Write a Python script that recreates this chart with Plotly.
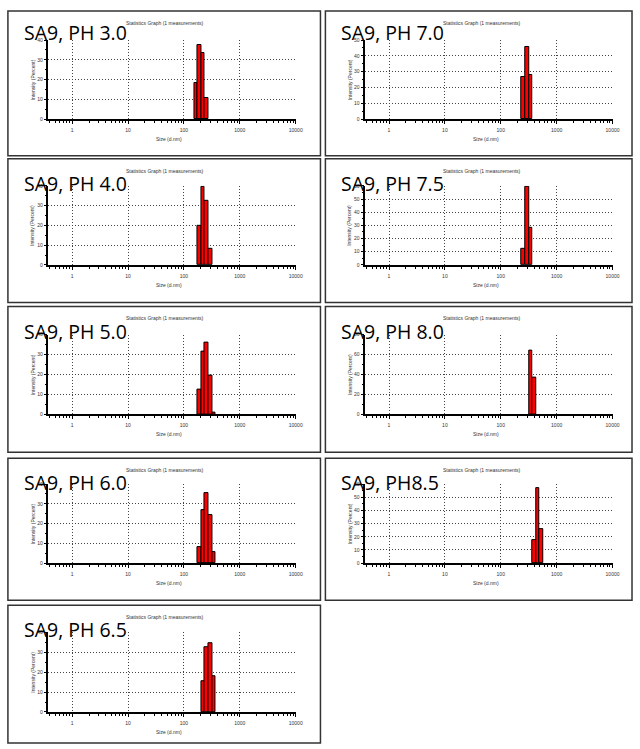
import math
import plotly.graph_objects as go

W, H = 640, 749

# ---- data (Malvern size classes, d.nm) and intensities (%) ----
labels = ["SA9, PH 3.0", "SA9, PH 4.0", "SA9, PH 5.0", "SA9, PH 6.0", "SA9, PH 6.5",
          "SA9, PH 7.0", "SA9, PH 7.5", "SA9, PH 8.0", "SA9, PH8.5"]

sizes_ph30 = [164.2, 190.1, 220.2, 255.0]
int_ph30 = [18.3, 37.6, 33.3, 10.8]
sizes_ph40 = [190.1, 220.2, 255.0, 295.3]
int_ph40 = [19.8, 39.4, 32.6, 8.2]
sizes_ph50 = [190.1, 220.2, 255.0, 295.3, 342.0]
int_ph50 = [12.2, 31.6, 35.9, 19.6, 0.7]
sizes_ph60 = [190.1, 220.2, 255.0, 295.3, 342.0]
int_ph60 = [8.2, 26.8, 35.3, 24.3, 5.4]
sizes_ph65 = [220.2, 255.0, 295.3, 342.0]
int_ph65 = [15.2, 32.3, 34.4, 18.1]
sizes_ph70 = [255.0, 295.3, 342.0]
int_ph70 = [26.6, 45.5, 27.9]
sizes_ph75 = [255.0, 295.3, 342.0]
int_ph75 = [12.5, 59.2, 28.3]
sizes_ph80 = [342.0, 396.1]
int_ph80 = [63.5, 36.5]
sizes_ph85 = [396.1, 458.7, 531.2]
int_ph85 = [17.4, 56.7, 25.9]

y_max = [40, 40, 40, 40, 40, 50, 60, 80, 60]
y_dtick = [10, 10, 10, 10, 10, 10, 10, 20, 10]
x_tickvals = [1, 10, 100, 1000, 10000]
x_ticktext = ["1", "10", "100", "1000", "10000"]

all_sizes = [sizes_ph30, sizes_ph40, sizes_ph50, sizes_ph60, sizes_ph65,
             sizes_ph70, sizes_ph75, sizes_ph80, sizes_ph85]
all_int = [int_ph30, int_ph40, int_ph50, int_ph60, int_ph65,
           int_ph70, int_ph75, int_ph80, int_ph85]

# ---- layout geometry (pixels) ----
RATIO = (10000 / 0.4) ** (1 / 69)      # Malvern size-class ratio
col_plot_x = [(49, 299), (369.3, 619.3)]
col_box_x = [(8, 324), (329, 639)]
row_plot_y = [(37.3, 117.2), (184.3, 264), (334.3, 414.7), (485, 564.7), (634.3, 714.7)]
row_box_y = [(8, 154), (157, 302), (306, 453), (459, 602), (607, 746)]
label_mid_y = [29.5, 182, 331.5, 483, 631.5]
positions = [(0, 0), (0, 1), (0, 2), (0, 3), (0, 4), (1, 0), (1, 1), (1, 2), (1, 3)]

def fx(v):
    return v / W

def fy(v):
    return 1 - v / H

minor_x = []
for d in [0.1, 1, 10, 100, 1000]:
    for k in range(2, 10):
        v = d * k
        if 0.376 < v < 10000:
            minor_x.append(v)

FONT = "Liberation Sans, Arial, sans-serif"
fig = go.Figure()
layout = dict(width=W, height=H, margin=dict(l=0, r=0, t=0, b=0),
              paper_bgcolor="white", plot_bgcolor="white", showlegend=False,
              bargap=0)
shapes = []
annotations = []

for i in range(9):
    col, row = positions[i]
    sfx = "" if i == 0 else str(i + 1)
    xa, ya = "x" + sfx, "y" + sfx
    sizes = all_sizes[i]
    vals = all_int[i]
    lo = [s / math.sqrt(RATIO) for s in sizes]
    hi = [s * math.sqrt(RATIO) for s in sizes]
    fig.add_trace(go.Bar(
        x=sizes, y=vals, xaxis=xa, yaxis=ya,
        width=[h - l for l, h in zip(lo, hi)],
        offset=[l - s for l, s in zip(lo, sizes)],
        marker=dict(color="#ff0000", line=dict(color="black", width=1)),
        hoverinfo="x+y"))
    x0, x1 = col_plot_x[col]
    y0, y1 = row_plot_y[row]
    layout["xaxis" + sfx] = dict(
        type="log", range=[math.log10(0.376), 4], domain=[fx(x0), fx(x1)], anchor=ya,
        tickvals=x_tickvals, ticktext=x_ticktext,
        tickfont=dict(family=FONT, size=5, color="#333"),
        ticks="outside", ticklen=3, tickcolor="black", ticklabelstandoff=2,
        showline=True, linecolor="black", linewidth=1.5,
        showgrid=True, gridcolor="#444", gridwidth=1, griddash="1px,2px",
        zeroline=False, fixedrange=True,
        minor=dict(tickvals=minor_x, ticks="outside", ticklen=2, tickcolor="black",
                   tickwidth=1.2, showgrid=False))
    layout["yaxis" + sfx] = dict(
        range=[0, y_max[i]], domain=[fy(y1), fy(y0)], anchor=xa,
        dtick=y_dtick[i], tick0=0,
        tickfont=dict(family=FONT, size=5, color="#333"),
        ticks="outside", ticklen=3, tickcolor="black",
        showline=True, linecolor="black", linewidth=1.5,
        showgrid=True, gridcolor="#444", gridwidth=1, griddash="1px,2px",
        zeroline=False, fixedrange=True,
        minor=dict(dtick=y_dtick[i] / 2, ticks="outside", ticklen=2,
                   tickcolor="black", showgrid=False))

    bx0, bx1 = col_box_x[col]
    by0, by1 = row_box_y[row]
    shapes.append(dict(type="rect", xref="paper", yref="paper",
                       x0=fx(bx0), x1=fx(bx1), y0=fy(by1), y1=fy(by0),
                       line=dict(color="#333", width=1.5), layer="below"))
    cx = (x0 + x1) / 2
    annotations.append(dict(text="Statistics Graph (1 measurements)", xref="paper", yref="paper",
                            x=fx(cx - 7), y=fy(by0 + 12), showarrow=False,
                            xanchor="center", yanchor="middle",
                            font=dict(family=FONT, size=5, color="#333")))
    annotations.append(dict(text="Size (d.nm)", xref="paper", yref="paper",
                            x=fx(cx - 3), y=fy(y1 + 20), showarrow=False,
                            xanchor="center", yanchor="middle",
                            font=dict(family=FONT, size=5, color="#333")))
    annotations.append(dict(text="Intensity (Percent)", xref="paper", yref="paper",
                            x=fx(x0 - 16), y=fy((y0 + y1) / 2), showarrow=False,
                            xanchor="center", yanchor="middle", textangle=-90,
                            font=dict(family=FONT, size=5, color="#333")))
    annotations.append(dict(text=labels[i], xref="paper", yref="paper",
                            x=fx(bx0 + 14), y=fy(label_mid_y[row]), showarrow=False,
                            xanchor="left", yanchor="middle",
                            font=dict(family="Open Sans", size=19.5, color="black")))

layout["shapes"] = shapes
layout["annotations"] = annotations
fig.update_layout(**layout)
fig.write_html("out.html", config={"displayModeBar": False},
               post_script="document.body.style.margin='0';document.body.style.overflow='hidden';")
